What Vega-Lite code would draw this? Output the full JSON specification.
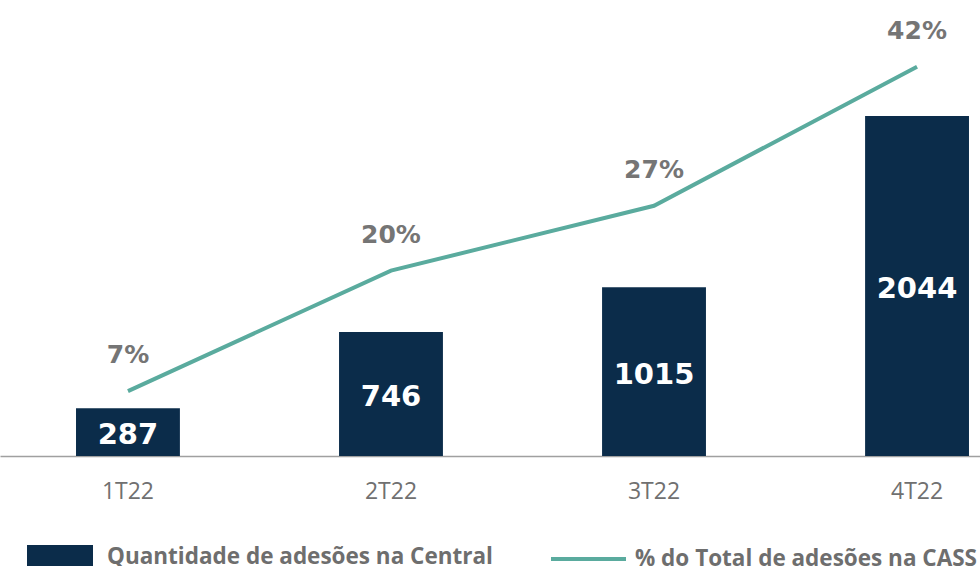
{
  "$schema": "https://vega.github.io/schema/vega-lite/v6.json",
  "width": 1045,
  "height": 456,
  "padding": 0,
  "background": "white",
  "config": {"view": {"stroke": null}, "font": "Open Sans"},
  "data": {"values": [
    {"q": "1T22", "adesoes": 287, "pct": 7},
    {"q": "2T22", "adesoes": 746, "pct": 20},
    {"q": "3T22", "adesoes": 1015, "pct": 27},
    {"q": "4T22", "adesoes": 2044, "pct": 42}
  ]},
  "encoding": {
    "x": {"field": "q", "type": "nominal", "sort": null,
      "scale": {"paddingInner": 0.605, "paddingOuter": 0.289},
      "axis": {"title": null, "labelAngle": 0, "labelFontSize": 23, "labelColor": "#707070", "labelPadding": 24, "ticks": false, "domainColor": "#a0a0a0", "domainWidth": 1.5, "labelFont": "Open Sans"}}
  },
  "layer": [
    {
      "mark": {"type": "bar", "color": "#0b2c4a"},
      "encoding": {
        "y": {"field": "adesoes", "type": "quantitative", "scale": {"domain": [0, 2742], "nice": false}, "axis": null},
        "fill": {"datum": "Quantidade de adesões na Central", "type": "nominal",
          "scale": {"range": ["#0b2c4a"]},
          "legend": {"title": null, "orient": "none", "legendX": 27, "legendY": 524, "padding": 0,
            "symbolType": "M-1,-0.36H1V0.36H-1Z", "symbolSize": 4356, "symbolStrokeWidth": 0, "symbolOpacity": 1,
            "labelFontSize": 22.5, "labelFontWeight": "bold", "labelColor": "#6e6e6e", "labelFont": "Open Sans", "labelOffset": 14, "labelLimit": 700}}
      }
    },
    {
      "mark": {"type": "text", "color": "white", "fontSize": 29, "fontWeight": "bold", "font": "DejaVu Sans", "baseline": "middle", "dy": 3},
      "encoding": {
        "y": {"field": "mid", "type": "quantitative", "scale": {"domain": [0, 2742], "nice": false}, "axis": null},
        "text": {"field": "adesoes", "type": "quantitative"}
      },
      "transform": [{"calculate": "datum.adesoes / 2", "as": "mid"}]
    },
    {
      "mark": {"type": "line", "strokeWidth": 4, "color": "#5aab9e"},
      "encoding": {
        "y": {"field": "pct", "type": "quantitative", "scale": {"domain": [0, 49.2], "nice": false}, "axis": null},
        "stroke": {"datum": "% do Total de adesões na CASS", "type": "nominal",
          "scale": {"range": ["#5aab9e"]},
          "legend": {"title": null, "orient": "none", "legendX": 549, "legendY": 519.5, "padding": 0,
            "symbolType": "stroke", "symbolSize": 5625, "symbolStrokeWidth": 4,
            "labelFontSize": 22.5, "labelFontWeight": "bold", "labelColor": "#6e6e6e", "labelFont": "Open Sans", "labelOffset": 7, "labelLimit": 700}}
      }
    },
    {
      "mark": {"type": "text", "color": "#757575", "fontSize": 25, "fontWeight": "bold", "font": "DejaVu Sans", "baseline": "middle", "dy": -36},
      "encoding": {
        "y": {"field": "pct", "type": "quantitative", "scale": {"domain": [0, 49.2], "nice": false}, "axis": null},
        "text": {"field": "pctlabel", "type": "nominal"}
      },
      "transform": [{"calculate": "datum.pct + '%'", "as": "pctlabel"}]
    }
  ],
  "resolve": {"scale": {"y": "independent"}}
}
